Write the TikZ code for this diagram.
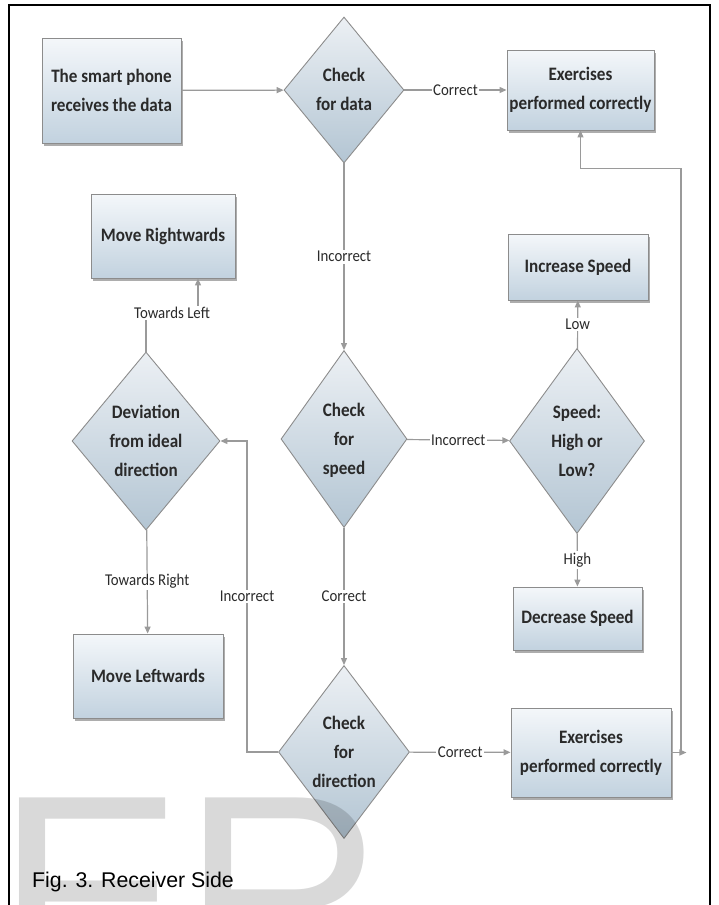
\documentclass[tikz,border=0pt]{standalone}
\usepackage{fontspec}
\setmainfont{Carlito}[FakeStretch=0.9]
\newfontfamily\capfont{Liberation Sans}
\usetikzlibrary{shapes.geometric,arrows.meta,shadows,positioning}

\definecolor{boxedge}{HTML}{8C8C8C}
\definecolor{boxtop}{HTML}{F4F7FA}
\definecolor{boxbot}{HTML}{C2D2DF}
\definecolor{dmdtop}{HTML}{ECF0F4}
\definecolor{dmdbot}{HTML}{B3C5D3}
\definecolor{txtcol}{HTML}{2A2A2A}
\definecolor{lncol}{HTML}{9A9A9A}

% diamond text: keep the box small so the outline size is set by hand
\newcommand{\dtext}[1]{\raisebox{-5pt}[0pt][0pt]{\begin{tabular}{@{}c@{}}#1\end{tabular}}}

\tikzset{
  procbox/.style={rectangle, draw=boxedge, line width=0.9pt, top color=boxtop, bottom color=boxbot,
    text=txtcol, font=\bfseries\fontsize{19}{29}\selectfont, align=center, inner sep=0pt,
    drop shadow={shadow xshift=1.5pt, shadow yshift=-2.5pt, fill=black!40, opacity=0.8}},
  decision/.style={diamond, draw=boxedge, line width=0.9pt, top color=dmdtop, bottom color=dmdbot,
    text=txtcol, font=\bfseries\fontsize{19}{29}\selectfont, inner sep=0pt},
  conn/.style={draw=lncol, line width=1.2pt},
  arr/.style={conn, -{Triangle[length=7pt,width=6pt]}},
  lbl/.style={fill=white, text=txtcol, font=\fontsize{16.5}{18}\selectfont, inner sep=1.5pt},
}

\begin{document}
\begin{tikzpicture}[x=1pt,y=-1pt]
	\useasboundingbox (0,0) rectangle (718,905);
	\draw[line width=1.8pt] (9,930) -- (9,5) -- (710,5) -- (710,930);

	% top row
	\node[procbox, minimum width=139pt, minimum height=105pt] (phone) at (111.5,90.5) {The smart phone\\receives the data};
	\node[decision, minimum width=120pt, minimum height=146pt] (chkdata) at (344,90) {\dtext{Check\\for data}};
	\node[procbox, minimum width=147pt, minimum height=80pt] (extop) at (580.5,90) {Exercises\\performed correctly};

	% middle row
	\node[procbox, minimum width=144pt, minimum height=84pt] (movr) at (163,236) {Move Rightwards};
	\node[procbox, minimum width=140pt, minimum height=66pt] (incsp) at (578,267) {Increase Speed};
	\node[decision, minimum width=148pt, minimum height=178pt] (dev) at (146,441) {\dtext{Deviation\\from ideal\\direction}};
	\node[decision, minimum width=126pt, minimum height=177pt] (chkspeed) at (344,439) {\dtext{Check\\for\\speed}};
	\node[decision, minimum width=135pt, minimum height=185pt] (hilo) at (577,441) {\dtext{Speed:\\High or\\Low?}};
	\node[procbox, minimum width=129pt, minimum height=63pt] (decsp) at (577.5,618.5) {Decrease Speed};

	% bottom row
	\node[procbox, minimum width=150pt, minimum height=84pt] (movl) at (148,676) {Move Leftwards};
	\node[decision, minimum width=131pt, minimum height=173pt] (chkdir) at (344,752) {\dtext{Check\\for\\direction}};
	\node[procbox, minimum width=160pt, minimum height=89pt] (exbot) at (591,752.5) {Exercises\\performed correctly};

	% connectors
	\draw[arr] (phone) -- (chkdata);
	\draw[arr] (chkdata) -- node[lbl] {Correct} (extop);
	\draw[arr] (chkdata) -- node[lbl] {Incorrect} (chkspeed);
	\draw[arr] (chkspeed) -- node[lbl] {Incorrect} (hilo);
	\draw[arr] (hilo) -- node[lbl] {Low} (incsp);
	\draw[arr] (hilo) -- node[lbl] {High} (decsp);
	\draw[arr] (chkspeed) -- node[lbl] {Correct} (chkdir);
	\draw[arr] (chkdir) -- node[lbl] {Correct} (exbot);
	\draw[arr] (chkdir.west) -- ++(-31,0) |- node[lbl,pos=0.25] {Incorrect} (dev.east);
	\draw[arr] (dev) -- node[lbl] {Towards Right} (movl);

	\node[lbl] (towl) at (172,313) {Towards Left};
	\draw[conn] (dev.north) -- (dev.north |- towl.south);
	\draw[arr] ([xshift=26pt]towl.north) -- ([xshift=26pt]towl.north |- movr.south);

	\coordinate (fbk) at (681,752.5);
	\draw[arr] (exbot.east) -- ++(15,0);
	\draw[arr] (fbk) |- ([yshift=-38pt]extop.south) -- (extop.south);

	% caption and watermark
	\node[anchor=base west, inner sep=0pt, font=\capfont\fontsize{21.3}{24}\selectfont] (caption) at (32,887) {Fig. 3. Receiver Side};
	\node[anchor=base west, inner sep=0pt, text=black, text opacity=0.15,
	  font=\capfont\fontsize{280}{280}\selectfont] (mark) at (-4,990) {ER};
\end{tikzpicture}
\end{document}
